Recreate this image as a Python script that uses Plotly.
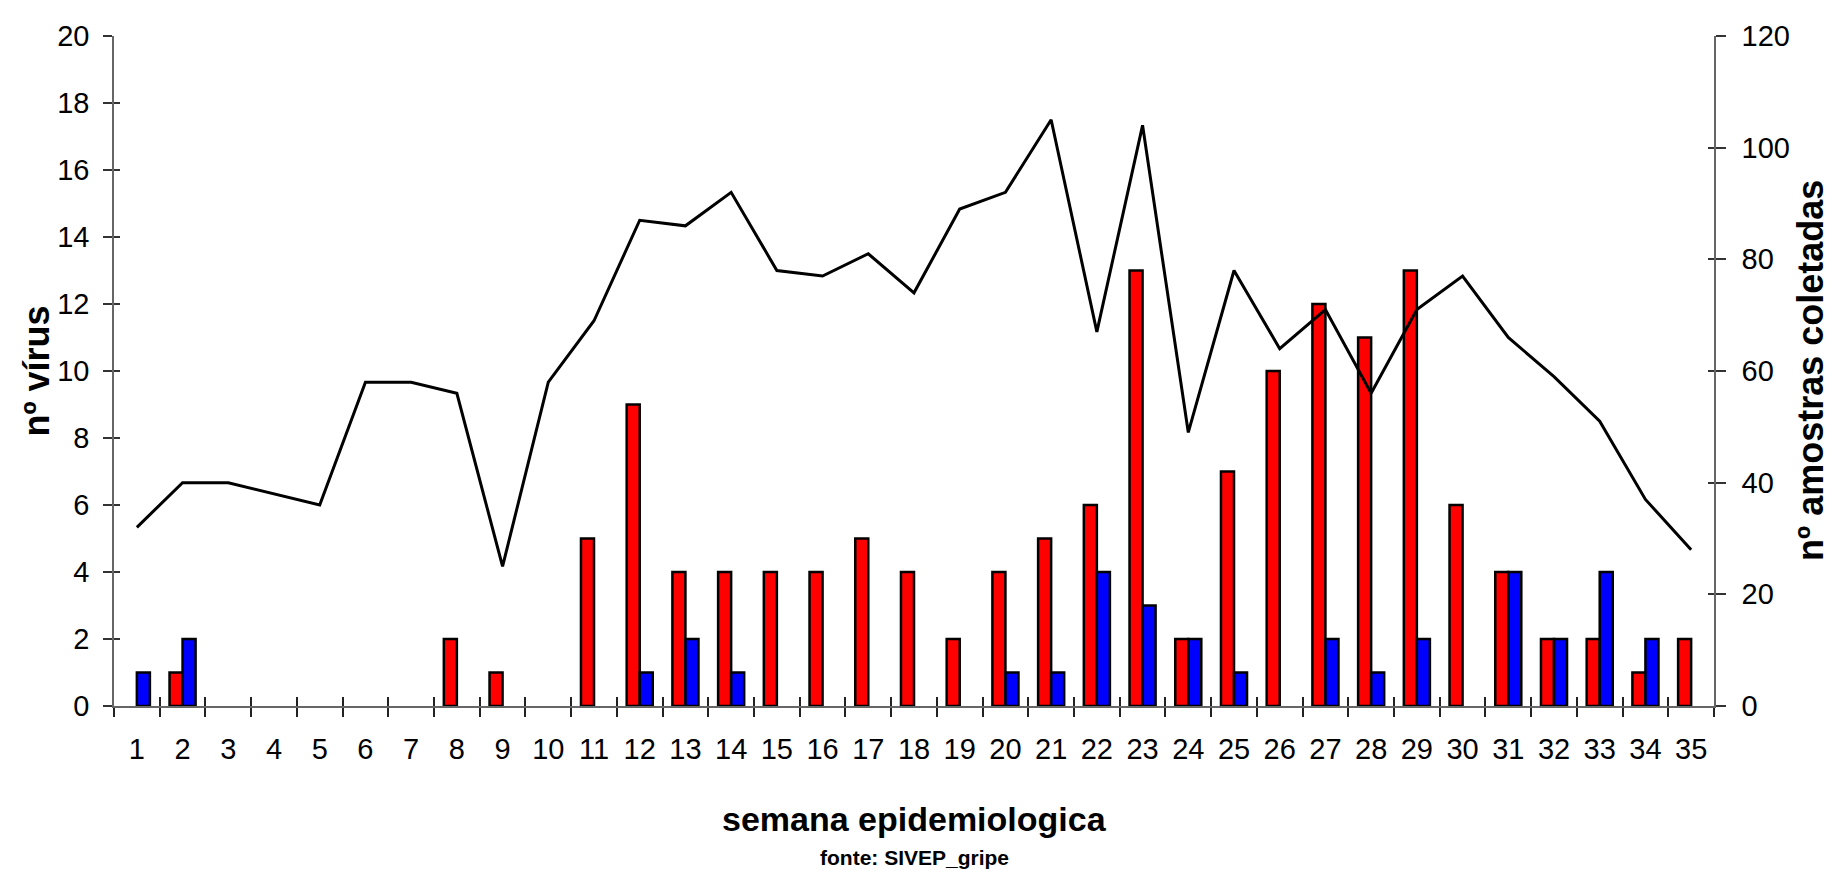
import plotly.graph_objects as go

weeks = list(range(1, 36))
week_labels = [str(w) for w in weeks]
virus_red = [0, 1, 0, 0, 0, 0, 0, 2, 1, 0, 5, 9, 4, 4, 4, 4, 5, 4, 2, 4, 5, 6, 13, 2, 7, 10, 12, 11, 13, 6, 4, 2, 2, 1, 2]
virus_blue = [1, 2, 0, 0, 0, 0, 0, 0, 0, 0, 0, 1, 2, 1, 0, 0, 0, 0, 0, 1, 1, 4, 3, 2, 1, 0, 2, 1, 2, 0, 4, 2, 4, 2, 0]
amostras = [32, 40, 40, 38, 36, 58, 58, 56, 25, 58, 69, 87, 86, 92, 78, 77, 81, 74, 89, 92,
            105, 67, 104, 49, 78, 64, 71, 56, 71, 77, 66, 59, 51, 37, 28]
left_ticks = list(range(0, 21, 2))
right_ticks = list(range(0, 121, 20))
boundaries = [w - 0.5 for w in weeks] + [weeks[-1] + 0.5]

FONT = "Liberation Sans, Arial, sans-serif"
xr = [weeks[0] - 0.5, weeks[-1] + 0.5]

# zero counts are not drawn as bars in the original chart
red_plot = [v if v else None for v in virus_red]
blue_plot = [v if v else None for v in virus_blue]

fig = go.Figure()
fig.add_trace(go.Bar(x=weeks, y=red_plot, marker=dict(color="#FF0000", line=dict(color="black", width=2.5)),
                     showlegend=False, xaxis="x", yaxis="y"))
fig.add_trace(go.Bar(x=weeks, y=blue_plot, marker=dict(color="#0000FF", line=dict(color="black", width=2.5)),
                     showlegend=False, xaxis="x", yaxis="y"))
# helper empty traces for cross tick marks
fig.add_trace(go.Scatter(x=[None], y=[None], xaxis="x", yaxis="y3", showlegend=False, hoverinfo="skip"))
fig.add_trace(go.Scatter(x=[None], y=[None], xaxis="x", yaxis="y4", showlegend=False, hoverinfo="skip"))
fig.add_trace(go.Scatter(x=weeks, y=amostras, mode="lines", line=dict(color="black", width=3),
                         showlegend=False, xaxis="x2", yaxis="y2"))

tickfont = dict(family=FONT, size=29, color="black")

fig.update_layout(
    width=1829, height=861,
    margin=dict(l=106, r=123, t=23, b=163),
    plot_bgcolor="white", paper_bgcolor="white",
    barmode="group", bargap=0.43, bargroupgap=0,
    xaxis=dict(range=xr, tickmode="array", tickvals=weeks, ticktext=week_labels, ticks="",
               showline=True, linecolor="#666", linewidth=1.5, showgrid=False, zeroline=False,
               tickfont=tickfont, ticklabelstandoff=16,
               minor=dict(tickmode="array", tickvals=boundaries, ticks="outside", ticklen=9,
                          tickwidth=1.5, tickcolor="#222", showgrid=False)),
    xaxis2=dict(range=xr, overlaying="x", anchor="y", side="bottom", tickmode="array",
                tickvals=boundaries, ticks="inside", ticklen=9, tickwidth=1.5, tickcolor="#222",
                showticklabels=False, showline=False, showgrid=False, zeroline=False),
    yaxis=dict(range=[0, 20], tickmode="array", tickvals=left_ticks, ticks="outside", ticklen=9,
               tickwidth=1.5, tickcolor="#333", showline=True, linecolor="#666", linewidth=1.5,
               showgrid=False, zeroline=False, tickfont=tickfont, ticklabelstandoff=8),
    yaxis3=dict(range=[0, 20], overlaying="y", side="left", anchor="x", tickmode="array",
                tickvals=left_ticks, ticks="inside", ticklen=6, tickwidth=1.5, tickcolor="#333",
                showticklabels=False, showline=False, showgrid=False, zeroline=False),
    yaxis2=dict(range=[0, 120], overlaying="y", side="right", anchor="x", tickmode="array",
                tickvals=right_ticks, ticks="outside", ticklen=10, tickwidth=1.5, tickcolor="#333",
                showline=True, linecolor="#666", linewidth=1.5, showgrid=False, zeroline=False,
                tickfont=tickfont, ticklabelstandoff=10),
    yaxis4=dict(range=[0, 120], overlaying="y", side="right", anchor="x", tickmode="array",
                tickvals=right_ticks, ticks="inside", ticklen=6, tickwidth=1.5, tickcolor="#333",
                showticklabels=False, showline=False, showgrid=False, zeroline=False),
    annotations=[
        dict(text="<b>nº vírus</b>", xref="paper", yref="paper", x=-0.049, y=0.5, textangle=-90,
             xanchor="center", yanchor="middle", showarrow=False, font=dict(family=FONT, size=36, color="black")),
        dict(text="<b>nº amostras coletadas</b>", xref="paper", yref="paper", x=1.06, y=0.5, textangle=-90,
             xanchor="center", yanchor="middle", showarrow=False, font=dict(family=FONT, size=36, color="black")),
        dict(text="<b>semana epidemiologica</b>", xref="paper", yref="paper", x=0.5, y=-0.169,
             xanchor="center", yanchor="middle", showarrow=False, font=dict(family=FONT, size=34, color="black")),
        dict(text="<b>fonte: SIVEP_gripe</b>", xref="paper", yref="paper", x=0.5, y=-0.226,
             xanchor="center", yanchor="middle", showarrow=False, font=dict(family=FONT, size=21, color="black")),
    ],
)

fig.write_html("out.html")
